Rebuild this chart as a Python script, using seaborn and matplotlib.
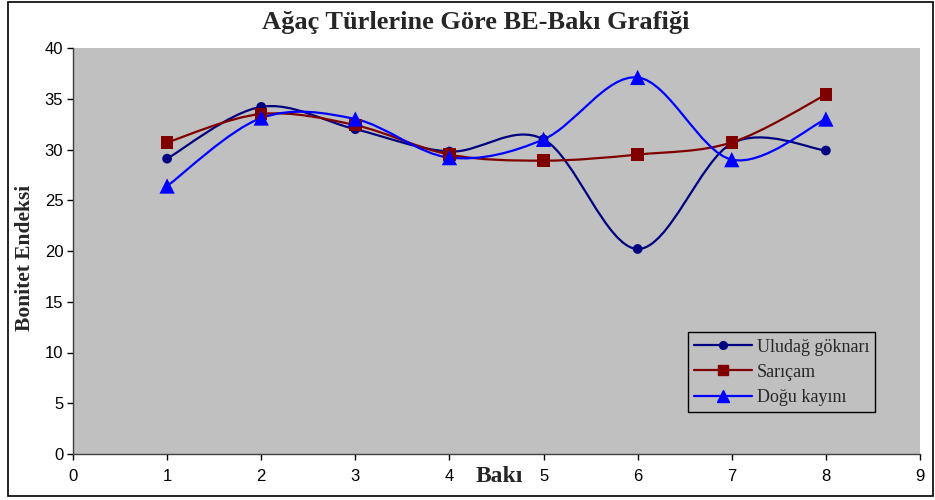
import matplotlib
matplotlib.use("Agg")
import matplotlib.pyplot as plt
from matplotlib.path import Path
from matplotlib.patches import PathPatch, Rectangle
import seaborn as sns
import pandas as pd
import numpy as np

# data
baki = [1, 2, 3, 4, 5, 6, 7, 8]
uludag = [29.1, 34.2, 32.0, 29.8, 31.0, 20.2, 30.6, 29.9]
saricam = [30.7, 33.5, 32.4, 29.5, 28.9, 29.5, 30.7, 35.4]
dogu = [26.4, 33.1, 33.0, 29.2, 31.0, 37.1, 29.0, 33.0]
series_names = ["Uludağ göknarı", "Sarıçam", "Doğu kayını"]
x_ticks = list(range(0, 10))
y_ticks = list(range(0, 45, 5))

colors = ["#000080", "#800000", "#0000FF"]
markers = ["o", "s", "^"]
msizes = [7, 9, 11]


def smooth_path(x, y):
    # excel-style smoothed line: cubic bezier through the points
    pts = np.column_stack([x, y]).astype(float)
    n = len(pts)
    verts = [pts[0]]
    codes = [Path.MOVETO]
    for i in range(n - 1):
        p0 = pts[max(i - 1, 0)]
        p1 = pts[i]
        p2 = pts[i + 1]
        p3 = pts[min(i + 2, n - 1)]
        c1 = p1 + (p2 - p0) / 6.0
        c2 = p2 - (p3 - p1) / 6.0
        verts += [c1, c2, p2]
        codes += [Path.CURVE4] * 3
    return Path(verts, codes)


df = pd.DataFrame({"Bakı": baki * 3,
                   "BE": uludag + saricam + dogu,
                   "Tür": sum([[s] * len(baki) for s in series_names], [])})

sns.set_style("white")
plt.rcParams["font.family"] = ["Liberation Sans", "DejaVu Sans"]

fig = plt.figure(figsize=(9.35, 5.0), dpi=100)
ax = fig.add_axes([73 / 935, 46 / 500, 847 / 935, 406 / 500])
ax.set_facecolor("#C0C0C0")

for name, c in zip(series_names, colors):
    sub = df[df["Tür"] == name]
    ax.add_patch(PathPatch(smooth_path(sub["Bakı"], sub["BE"]), facecolor="none",
                           edgecolor=c, lw=1.6, zorder=2))

sns.scatterplot(data=df, x="Bakı", y="BE", hue="Tür", style="Tür",
                palette=dict(zip(series_names, colors)),
                markers=dict(zip(series_names, markers)),
                size="Tür", sizes=dict(zip(series_names, [m ** 2 for m in msizes])),
                edgecolor="none", linewidth=0, legend=False, ax=ax, zorder=3)

ax.set_xlim(0, 9)
ax.set_ylim(0, 40)
ax.set_xticks(x_ticks)
ax.set_yticks(y_ticks)
ax.tick_params(axis="both", direction="out", length=4, width=1, colors="black",
               labelsize=12, pad=3, left=True, bottom=True)
ax.tick_params(axis="x", pad=7)
for s in ["top", "right"]:
    ax.spines[s].set_visible(False)
for s in ["left", "bottom"]:
    ax.spines[s].set_color("#404040")
    ax.spines[s].set_linewidth(1)

ax.set_xlabel("")
ax.set_ylabel("")
serif = ["Liberation Serif", "DejaVu Serif"]
fig.text(499 / 935, 1 - 477 / 500, "Bakı", family=serif, weight="bold",
         fontsize=17, ha="center", va="center")
fig.text(25 / 935, 1 - 258 / 500, "Bonitet Endeksi", family=serif, weight="bold",
         fontsize=15.5, ha="center", va="center", rotation=90)
fig.text(476 / 935, 1 - 22 / 500, "Ağaç Türlerine Göre BE-Bakı Grafiği", family=serif,
         weight="bold", fontsize=19, ha="center", va="center")

# legend
handles = [plt.Line2D([], [], color=c, marker=m, markersize=ms * 0.8, lw=1.6)
           for c, m, ms in zip(colors, markers, msizes)]
leg = ax.legend(handles, series_names, loc="lower left", bbox_to_anchor=(0.726, 0.103),
                borderaxespad=0,
                frameon=True, fancybox=False, framealpha=1, facecolor="#C0C0C0",
                edgecolor="black", prop={"family": serif, "size": 13},
                handlelength=3.2, borderpad=0.35, labelspacing=0.45, handletextpad=0.25)
leg.get_frame().set_linewidth(1)

fig.patches.append(Rectangle((8 / 935, 4 / 500), 925 / 935, 494 / 500, transform=fig.transFigure,
                             fill=False, edgecolor="black", lw=1.2))

fig.savefig("out.png", dpi=100)
